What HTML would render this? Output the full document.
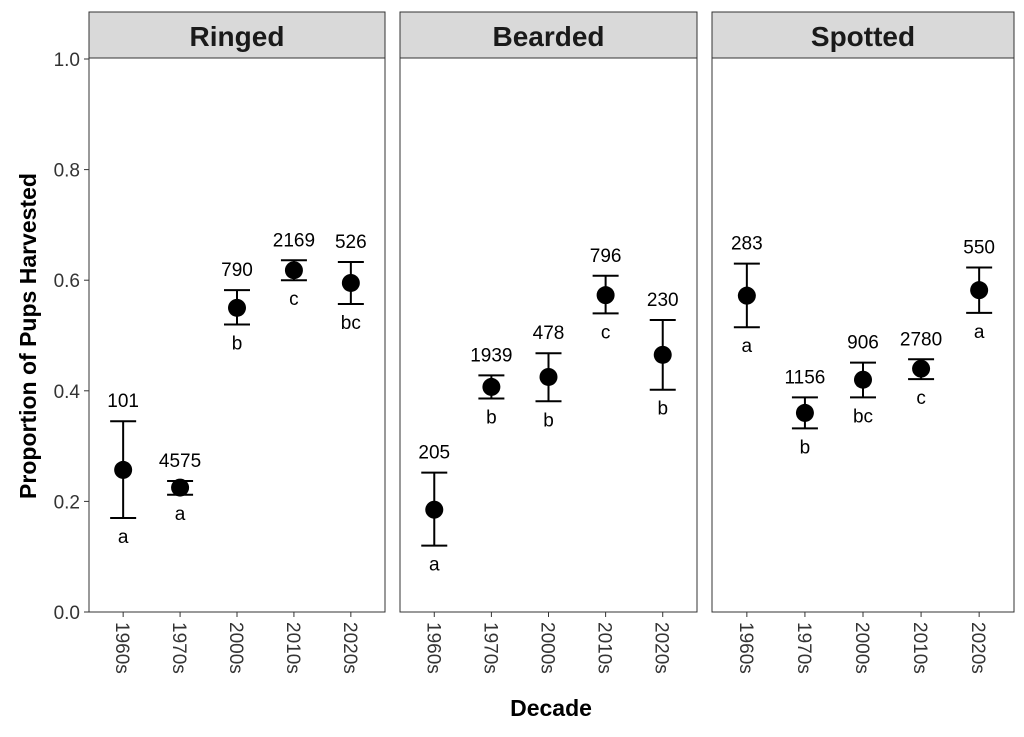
<!DOCTYPE html>
<html><head><meta charset="utf-8"><style>
body{margin:0;background:#fff;}
svg text{font-family:"Liberation Sans",Arial,sans-serif;}
</style></head><body>
<svg id="chart" width="1024" height="732" xmlns="http://www.w3.org/2000/svg"></svg>
<script>
const species=["Ringed","Bearded","Spotted"];
const decades=["1960s","1970s","2000s","2010s","2020s"];
const yTicks=[0.0,0.2,0.4,0.6,0.8,1.0];
const ringedMean=[0.257,0.225,0.55,0.618,0.595];
const ringedLo=[0.17,0.212,0.52,0.6,0.557];
const ringedHi=[0.345,0.237,0.582,0.636,0.633];
const ringedN=["101","4575","790","2169","526"];
const ringedGrp=["a","a","b","c","bc"];
const beardedMean=[0.185,0.407,0.425,0.573,0.465];
const beardedLo=[0.12,0.386,0.381,0.54,0.402];
const beardedHi=[0.252,0.428,0.468,0.608,0.528];
const beardedN=["205","1939","478","796","230"];
const beardedGrp=["a","b","b","c","b"];
const spottedMean=[0.572,0.36,0.42,0.44,0.582];
const spottedLo=[0.515,0.332,0.388,0.421,0.541];
const spottedHi=[0.63,0.388,0.451,0.457,0.623];
const spottedN=["283","1156","906","2780","550"];
const spottedGrp=["a","b","bc","c","a"];

const series=[[ringedMean,ringedLo,ringedHi,ringedN,ringedGrp],[beardedMean,beardedLo,beardedHi,beardedN,beardedGrp],[spottedMean,spottedLo,spottedHi,spottedN,spottedGrp]];
const NS="http://www.w3.org/2000/svg";
const svg=document.getElementById('chart');
function mk(tag,attrs,parent){const e=document.createElementNS(NS,tag);for(const k in attrs)e.setAttribute(k,attrs[k]);(parent||svg).appendChild(e);return e;}
const plotTop=59,plotBottom=612;
const yS=v=>plotBottom-v*(plotBottom-plotTop);
const panels=[[89,385],[400,697],[712,1014]];
function xS(p,i){const a=panels[p][0],b=panels[p][1];return a+(i+0.6)*(b-a)/(decades.length+0.2);}

yTicks.forEach(t=>{
  const tl=mk('line',{x1:84,x2:89,y1:yS(t),y2:yS(t),stroke:'#333','stroke-width':1});
  
  
  const tx=mk('text',{x:80,y:yS(t)+7,'text-anchor':'end','font-size':19,fill:'#333'});
  tx.textContent=t.toFixed(1);
  
  
});
const yt=mk('text',{x:0,y:0,transform:'translate(36,336) rotate(-90)','text-anchor':'middle','font-size':23,'font-weight':'bold',fill:'#000'});
yt.textContent='Proportion of Pups Harvested';


const xt=mk('text',{x:551,y:716,'text-anchor':'middle','font-size':23,'font-weight':'bold',fill:'#000'});
xt.textContent='Decade';



panels.forEach((pr,p)=>{
  const a=pr[0],b=pr[1];
  const g=mk('g',{});
  
  
  const strip=mk('rect',{x:a,y:12,width:b-a,height:46,fill:'#d9d9d9',stroke:'#333','stroke-width':1},g);
  
  
  const st=mk('text',{x:(a+b)/2,y:46,'text-anchor':'middle','font-size':28,'font-weight':'bold',fill:'#1a1a1a'},g);
  st.textContent=species[p];
  
  
  const box=mk('rect',{x:a,y:58,width:b-a,height:plotBottom-58,fill:'none',stroke:'#333','stroke-width':1},g);
  
  
  const mean=series[p][0],lo=series[p][1],hi=series[p][2],n=series[p][3],grp=series[p][4];
  decades.forEach((d,i)=>{
    const cx=xS(p,i);
    const tk=mk('line',{x1:cx,x2:cx,y1:plotBottom,y2:plotBottom+5,stroke:'#333'},g);
    
    
    const lb=mk('text',{x:0,y:0,transform:'translate('+(cx-7)+','+(plotBottom+10)+') rotate(90)','font-size':19,fill:'#333'},g);
    lb.textContent=d;
    
    
    const eb=mk('path',{d:'M'+(cx-13)+','+yS(hi[i])+'H'+(cx+13)+'M'+cx+','+yS(hi[i])+'V'+yS(lo[i])+'M'+(cx-13)+','+yS(lo[i])+'H'+(cx+13),stroke:'#000','stroke-width':2,fill:'none'},g);
    
    
    const pt=mk('circle',{cx:cx,cy:yS(mean[i]),r:9,fill:'#000'},g);
    
    
    const nt=mk('text',{x:cx,y:yS(hi[i])-14,'text-anchor':'middle','font-size':19,fill:'#000'},g);
    nt.textContent=n[i];
    
    
    const gt=mk('text',{x:cx,y:yS(lo[i])+25,'text-anchor':'middle','font-size':19,fill:'#000'},g);
    gt.textContent=grp[i];
    
    
  });
});
</script>
</body></html>
